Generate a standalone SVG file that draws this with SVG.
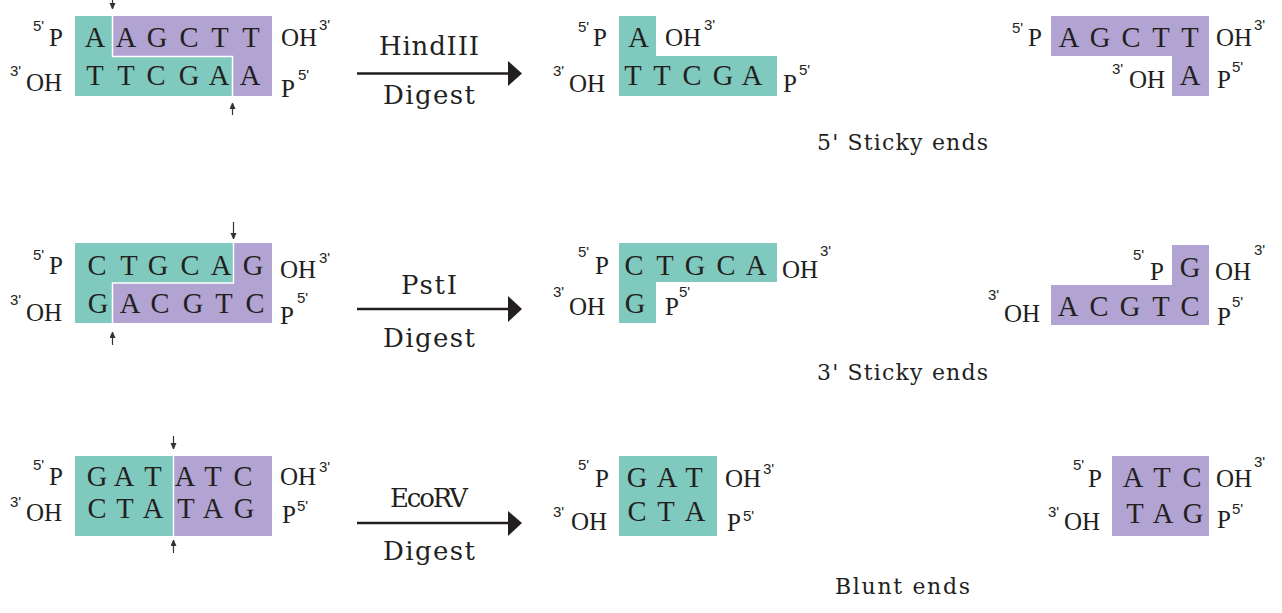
<svg xmlns="http://www.w3.org/2000/svg" width="1282" height="613" viewBox="0 0 1282 613">
<style>
.b{font-family:"Liberation Serif","Times New Roman",serif;font-size:28.5px;fill:#231f20;text-anchor:middle}
.l{font-family:"Liberation Serif","Times New Roman",serif;font-size:25px;fill:#231f20}
.s{font-family:"Liberation Sans",Arial,sans-serif;font-size:15px;fill:#231f20}
.e{font-family:"DejaVu Serif","Liberation Serif",serif;font-size:26px;fill:#231f20;text-anchor:middle}
.c{font-family:"DejaVu Serif","Liberation Serif",serif;font-size:22px;fill:#231f20}
.t{fill:#80c9bf}
.p{fill:#b1a3d2}
.w{fill:none;stroke:#fff;stroke-width:1.5}
.cut{stroke:#333;stroke-width:1.2;fill:none;marker-end:url(#sm)}
.big{stroke:#231f20;stroke-width:2.6;fill:none}
.head{fill:#231f20}
</style>
<defs>
<marker id="sm" markerWidth="6" markerHeight="7" refX="6" refY="3" orient="auto" markerUnits="userSpaceOnUse">
<path d="M0,0 L7,3 L0,6 z" fill="#333"/>
</marker>
</defs>
<rect width="1282" height="613" fill="#fff"/>

<!-- Row 1 HindIII -->
<g id="hind-left">
<rect class="t" x="75" y="16" width="197" height="80"/>
<path class="p" d="M113,16 H272 V96 H233 V57 H113 Z"/>
<path class="w" d="M112.5,16 V56.5 H232.5 V96"/>
<text class="b" y="47"><tspan x="95">A</tspan><tspan x="126">A</tspan><tspan x="157">G</tspan><tspan x="189">C</tspan><tspan x="220">T</tspan><tspan x="251">T</tspan></text>
<text class="b" y="85"><tspan x="95">T</tspan><tspan x="126">T</tspan><tspan x="156">C</tspan><tspan x="189">G</tspan><tspan x="219">A</tspan><tspan x="250">A</tspan></text>
<text class="s" x="33" y="31">5'</text><text class="l" x="49" y="46">P</text>
<text class="s" x="10" y="76">3'</text><text class="l" x="26" y="91">OH</text>
<text class="l" x="281" y="46">OH</text><text class="s" x="319" y="30">3'</text>
<text class="l" x="281" y="97">P</text><text class="s" x="298" y="80">5'</text>
</g>
<g id="hind-mid">
<path class="t" d="M619,16 H656 V56 H777 V96 H619 Z"/>
<text class="b" x="638.5" y="47">A</text>
<text class="b" y="85"><tspan x="633">T</tspan><tspan x="662">T</tspan><tspan x="692">C</tspan><tspan x="723">G</tspan><tspan x="752">A</tspan></text>
<text class="s" x="578" y="32">5'</text><text class="l" x="593" y="46">P</text>
<text class="l" x="665" y="46">OH</text><text class="s" x="704" y="30">3'</text>
<text class="s" x="553" y="76">3'</text><text class="l" x="569" y="92">OH</text>
<text class="l" x="783" y="92">P</text><text class="s" x="799" y="75">5'</text>
</g>
<g id="hind-right">
<path class="p" d="M1051,16 H1209 V96 H1172 V56 H1051 Z"/>
<text class="b" y="47"><tspan x="1069">A</tspan><tspan x="1100">G</tspan><tspan x="1131">C</tspan><tspan x="1161">T</tspan><tspan x="1190">T</tspan></text>
<text class="b" x="1190" y="85">A</text>
<text class="s" x="1012" y="33">5'</text><text class="l" x="1028" y="46">P</text>
<text class="l" x="1216" y="46">OH</text><text class="s" x="1254" y="30">3'</text>
<text class="s" x="1112" y="74">3'</text><text class="l" x="1129" y="88">OH</text>
<text class="l" x="1217" y="88">P</text><text class="s" x="1232" y="72">5'</text>
</g>
<g id="hind-label">
<text class="e" x="429" y="55" textLength="100">HindIII</text>
<text class="e" x="429" y="104" textLength="92">Digest</text>
</g>
<text id="sticky5" class="c" x="817" y="150" textLength="171">5' Sticky ends</text>

<!-- Row 2 PstI -->
<g id="pst-left">
<rect class="t" x="75" y="243" width="197" height="80"/>
<path class="p" d="M234,243 H272 V323 H113 V283.5 H234 Z"/>
<path class="w" d="M233.5,243 V283 H112.5 V323"/>
<text class="b" y="275"><tspan x="97">C</tspan><tspan x="129">T</tspan><tspan x="158">G</tspan><tspan x="190">C</tspan><tspan x="221">A</tspan><tspan x="253">G</tspan></text>
<text class="b" y="313"><tspan x="98">G</tspan><tspan x="130">A</tspan><tspan x="160">C</tspan><tspan x="193">G</tspan><tspan x="224">T</tspan><tspan x="255">C</tspan></text>
<text class="s" x="33" y="260">5'</text><text class="l" x="49" y="274">P</text>
<text class="s" x="10" y="305">3'</text><text class="l" x="26" y="321">OH</text>
<text class="l" x="280" y="278">OH</text><text class="s" x="319" y="263">3'</text>
<text class="l" x="280" y="324">P</text><text class="s" x="297" y="303">5'</text>
</g>
<g id="pst-mid">
<path class="t" d="M619,243 H777 V282 H656 V323 H619 Z"/>
<text class="b" y="275"><tspan x="634">C</tspan><tspan x="665">T</tspan><tspan x="695">G</tspan><tspan x="726">C</tspan><tspan x="756">A</tspan></text>
<text class="b" x="635" y="313">G</text>
<text class="s" x="578" y="257">5'</text><text class="l" x="595" y="274">P</text>
<text class="l" x="782" y="278">OH</text><text class="s" x="820" y="256">3'</text>
<text class="s" x="553" y="297">3'</text><text class="l" x="569" y="315">OH</text>
<text class="l" x="665" y="315">P</text><text class="s" x="679" y="297">5'</text>
</g>
<g id="pst-right">
<path class="p" d="M1172,245 H1209 V325 H1051 V285 H1172 Z"/>
<text class="b" x="1190" y="277">G</text>
<text class="b" y="316"><tspan x="1068">A</tspan><tspan x="1099">C</tspan><tspan x="1130">G</tspan><tspan x="1161">T</tspan><tspan x="1190">C</tspan></text>
<text class="s" x="1133" y="260">5'</text><text class="l" x="1150" y="280">P</text>
<text class="l" x="1215" y="280">OH</text><text class="s" x="1254" y="255">3'</text>
<text class="s" x="988" y="300">3'</text><text class="l" x="1004" y="322">OH</text>
<text class="l" x="1217" y="325">P</text><text class="s" x="1232" y="307">5'</text>
</g>
<g id="pst-label">
<text class="e" x="429" y="294" textLength="56">PstI</text>
<text class="e" x="429" y="347" textLength="92">Digest</text>
</g>
<text id="sticky3" class="c" x="817" y="380" textLength="171">3' Sticky ends</text>

<!-- Row 3 EcoRV -->
<g id="eco-left">
<rect class="t" x="75" y="456" width="99" height="80"/>
<rect class="p" x="174" y="456" width="98" height="80"/>
<path class="w" d="M173.5,456 V536"/>
<text class="b" y="486"><tspan x="97">G</tspan><tspan x="124">A</tspan><tspan x="153">T</tspan><tspan x="185">A</tspan><tspan x="213">T</tspan><tspan x="243">C</tspan></text>
<text class="b" y="518"><tspan x="97">C</tspan><tspan x="125">T</tspan><tspan x="153">A</tspan><tspan x="186">T</tspan><tspan x="213">A</tspan><tspan x="244">G</tspan></text>
<text class="s" x="33" y="470">5'</text><text class="l" x="49" y="485">P</text>
<text class="s" x="10" y="507">3'</text><text class="l" x="26" y="521">OH</text>
<text class="l" x="280" y="485">OH</text><text class="s" x="319" y="472">3'</text>
<text class="l" x="282" y="523">P</text><text class="s" x="297" y="511">5'</text>
</g>
<g id="eco-mid">
<rect class="t" x="619" y="456" width="98" height="80"/>
<text class="b" y="487"><tspan x="637">G</tspan><tspan x="667">A</tspan><tspan x="694">T</tspan></text>
<text class="b" y="521"><tspan x="637">C</tspan><tspan x="666">T</tspan><tspan x="695">A</tspan></text>
<text class="s" x="578" y="470">5'</text><text class="l" x="595" y="487">P</text>
<text class="l" x="725" y="487">OH</text><text class="s" x="763" y="474">3'</text>
<text class="s" x="553" y="517">3'</text><text class="l" x="571" y="530">OH</text>
<text class="l" x="727" y="531">P</text><text class="s" x="743" y="521">5'</text>
</g>
<g id="eco-right">
<rect class="p" x="1112" y="456" width="97" height="80"/>
<text class="b" y="487"><tspan x="1133">A</tspan><tspan x="1162">T</tspan><tspan x="1192">C</tspan></text>
<text class="b" y="523"><tspan x="1135">T</tspan><tspan x="1163">A</tspan><tspan x="1193">G</tspan></text>
<text class="s" x="1073" y="470">5'</text><text class="l" x="1088" y="487">P</text>
<text class="l" x="1216" y="487">OH</text><text class="s" x="1254" y="467">3'</text>
<text class="s" x="1048" y="517">3'</text><text class="l" x="1064" y="530">OH</text>
<text class="l" x="1217" y="528">P</text><text class="s" x="1232" y="514">5'</text>
</g>
<g id="eco-label">
<text class="e" x="429" y="507" textLength="78">EcoRV</text>
<text class="e" x="429" y="560" textLength="92">Digest</text>
</g>
<text id="blunt" class="c" x="835" y="594" textLength="135">Blunt ends</text>

<g id="connectors">
<path class="cut" d="M112.5,-2 V9"/>
<path class="cut" d="M232.5,115 V103"/>
<path class="cut" d="M233.5,222 V239"/>
<path class="cut" d="M112.5,345 V332"/>
<path class="cut" d="M173.5,436 V449"/>
<path class="cut" d="M173.5,553 V540"/>
<path class="big" d="M357,73.5 H510"/>
<path class="head" d="M508,61 L522,73.5 L508,86 Z"/>
<path class="big" d="M357,309 H510"/>
<path class="head" d="M508,296 L522,309 L508,322 Z"/>
<path class="big" d="M357,523 H510"/>
<path class="head" d="M508,511 L522,523 L508,536 Z"/>
</g>
</svg>
